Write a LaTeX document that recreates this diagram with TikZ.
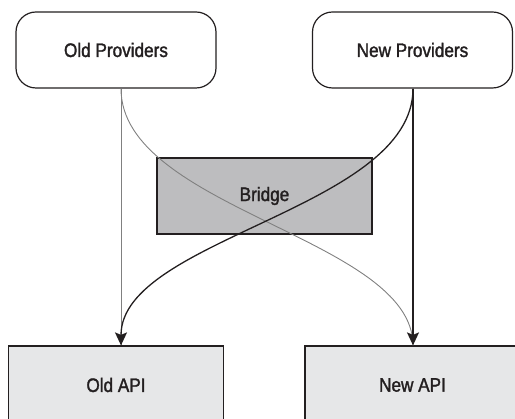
\documentclass[tikz,border=0pt]{standalone}
\usepackage{fontspec}
\setmainfont{Liberation Sans}[FakeStretch=0.88, FakeBold=1.6]
\usetikzlibrary{arrows.meta}
\definecolor{ink}{HTML}{231F20}
\definecolor{wire}{HTML}{808080}
\definecolor{bridgefill}{HTML}{BDBDBF}
\definecolor{apifill}{HTML}{E6E7E8}
\tikzset{
  label font/.style={font=\fontsize{19.5}{22}\selectfont, text=ink},
  provider/.style={draw=ink, line width=1.2pt, rounded corners=20pt, fill=white,
    minimum width=200pt, minimum height=76pt, inner sep=0pt, label font},
  bridgebox/.style={draw=ink, line width=1.2pt, fill=bridgefill,
    minimum width=215pt, minimum height=76pt, inner sep=0pt, label font},
  apibox/.style={draw=ink, line width=1.2pt, fill=apifill,
    minimum width=215pt, minimum height=78pt, inner sep=0pt, label font},
  oldwire/.style={draw=wire, line width=0.9pt},
  newwire/.style={draw=ink, line width=1.3pt},
  tip/.style={-{Stealth[length=13pt,width=12pt,inset=2.5pt]}}
}
\begin{document}
\begin{tikzpicture}[x=1pt,y=-1pt]
  \useasboundingbox (0,0) rectangle (515,419);
  \clip (0,0) rectangle (515,419);

  % source and target boxes
  \node[provider] (oldp) at (116,50) {Old Providers};
  \node[provider] (newp) at (412.5,50) {New Providers};
  \node[bridgebox] (bridge) at (264.5,196) {Bridge};
  \node[apibox] (oldapi) at (116,385) {Old API};
  \node[apibox] (newapi) at (412.5,385) {New API};

  % attachment points of the wires
  \coordinate (oldout) at ([xshift=5pt]oldp.south);
  \coordinate (newout) at ([xshift=0.5pt]newp.south);
  \coordinate (oldin) at ([xshift=5pt]oldapi.north);
  \coordinate (newin) at ([xshift=0.5pt]newapi.north);

  % old providers: straight to the old API, crossing over to the new API
  \draw[oldwire] (oldout) -- (oldin);
  \draw[oldwire] (oldout) .. controls ([yshift=-120pt]oldout) and ([yshift=107pt]newin) .. (newin);

  % new providers: straight to the new API, crossing over to the old API
  \draw[newwire, tip] (newout) -- (newin);
  \draw[newwire, tip] (newout) .. controls ([yshift=-120pt]newout) and ([yshift=107pt]oldin) .. (oldin);
\end{tikzpicture}
\end{document}
